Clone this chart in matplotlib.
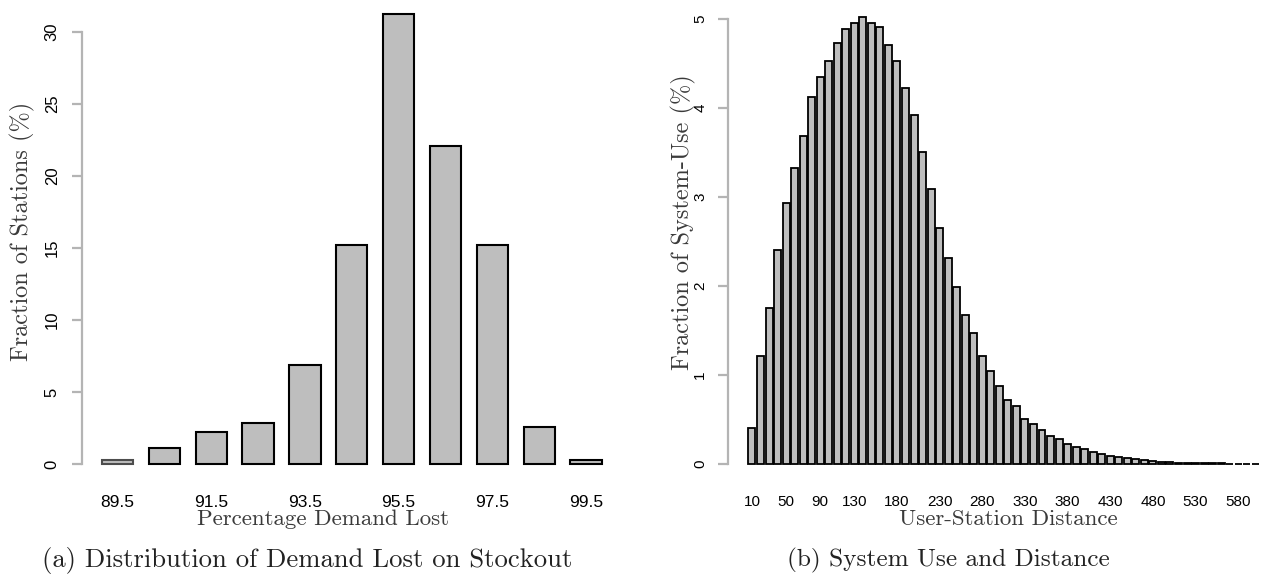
import numpy as np
import matplotlib
matplotlib.use('Agg')
import matplotlib.pyplot as plt

plt.rcParams['font.family'] = 'sans-serif'
plt.rcParams['font.sans-serif'] = ['Liberation Sans']

# (a) demand lost on stockout
lost_pct = [89.5, 90.5, 91.5, 92.5, 93.5, 94.5, 95.5, 96.5, 97.5, 98.5, 99.5]
station_frac = [0.3, 1.1, 2.25, 2.85, 6.85, 15.2, 31.25, 22.05, 15.2, 2.55, 0.27]
lost_ticks = [89.5, 91.5, 93.5, 95.5, 97.5, 99.5]
lost_yticks = [0, 5, 10, 15, 20, 25, 30]

# (b) system use vs user-station distance
distance = list(range(10, 610, 10))
use_frac = [0.40, 1.21, 1.75, 2.41, 2.93, 3.33, 3.68, 4.12, 4.35, 4.53,
            4.73, 4.89, 4.95, 5.02, 4.95, 4.91, 4.71, 4.53, 4.23, 3.92,
            3.51, 3.09, 2.65, 2.31, 1.99, 1.67, 1.47, 1.21, 1.05, 0.88,
            0.72, 0.65, 0.51, 0.45, 0.385, 0.32, 0.285, 0.23, 0.195, 0.165,
            0.14, 0.115, 0.095, 0.08, 0.066, 0.054, 0.041, 0.03, 0.025, 0.02,
            0.016, 0.013, 0.011, 0.009, 0.008, 0.006, 0.005, 0.004, 0.003, 0.002]
dist_ticks = [10, 50, 90, 130, 180, 230, 280, 330, 380, 430, 480, 530, 580]
use_yticks = [0, 1, 2, 3, 4, 5]

W, H = 1262, 578
fig = plt.figure(figsize=(W / 100, H / 100), dpi=100)

serif = 'cmr10'
axis_grey = '#b4b4b4'
bar_fill = '#bebebe'


def px_axes(left, bottom, right, top):
    return fig.add_axes([left / W, 1 - bottom / H, (right - left) / W, (bottom - top) / H])


def style(ax, ymax_tick, xfs, yfs, ypad):
    for s in ['top', 'right', 'bottom']:
        ax.spines[s].set_visible(False)
    ax.spines['left'].set_color(axis_grey)
    ax.spines['left'].set_linewidth(1.6)
    ax.spines['left'].set_bounds(0, ymax_tick)
    ax.tick_params(axis='y', colors=axis_grey, length=7, width=1.6,
                   labelcolor='black', labelsize=yfs, pad=ypad)
    ax.tick_params(axis='x', length=0, labelsize=xfs, pad=22)
    plt.setp(ax.get_yticklabels(), rotation=90, va='center')


# left panel (first bar comes out with a dark grey outline in the original)
edges = ['#4d4d4d'] + ['black'] * (len(lost_pct) - 1)
ax1 = px_axes(82, 464, 620, 0)
ax1.bar(lost_pct, station_frac, width=0.667, color=bar_fill, edgecolor=edges,
        linewidth=1.5, clip_on=False)
ax1.set_xlim(88.742, 100.226)
ax1.set_ylim(0, 464 / 14.4)
ax1.set_yticks(lost_yticks)
ax1.set_xticks(lost_ticks, [str(t) for t in lost_ticks])
style(ax1, 30, 12.5, 12, 9)

# right panel
ax2 = px_axes(728, 464, 1262, 0)
ax2.bar(distance, use_frac, width=8.2, color=bar_fill, edgecolor='black',
        linewidth=1.3, clip_on=False)
ax2.set_xlim(-18.1, 607.9)
ax2.set_ylim(0, 464 / 89.0)
ax2.set_yticks(use_yticks)
ax2.set_xticks(dist_ticks, [str(t) for t in dist_ticks])
style(ax2, 5, 11, 11, 8)

lab_col = '#3a3a3a'
fig.text(22 / W, 1 - 231 / H, 'Fraction of Stations (%)', rotation=90,
         ha='center', va='center', family=serif, fontsize=17.5, color=lab_col)
fig.text(323 / W, 1 - 519 / H, 'Percentage Demand Lost', ha='center', va='center',
         family=serif, fontsize=16.5, color=lab_col)
fig.text(307 / W, 1 - 560 / H, '(a) Distribution of Demand Lost on Stockout',
         ha='center', va='center', family=serif, fontsize=19.2, color='#222222')

fig.text(683 / W, 1 - 222 / H, 'Fraction of System-Use (%)', rotation=90,
         ha='center', va='center', family=serif, fontsize=17.5, color=lab_col)
fig.text(1008 / W, 1 - 519 / H, 'User-Station Distance', ha='center', va='center',
         family=serif, fontsize=16.5, color=lab_col)
fig.text(948 / W, 1 - 560 / H, '(b) System Use and Distance',
         ha='center', va='center', family=serif, fontsize=18.2, color='#222222')

fig.savefig('out.png', dpi=100)
